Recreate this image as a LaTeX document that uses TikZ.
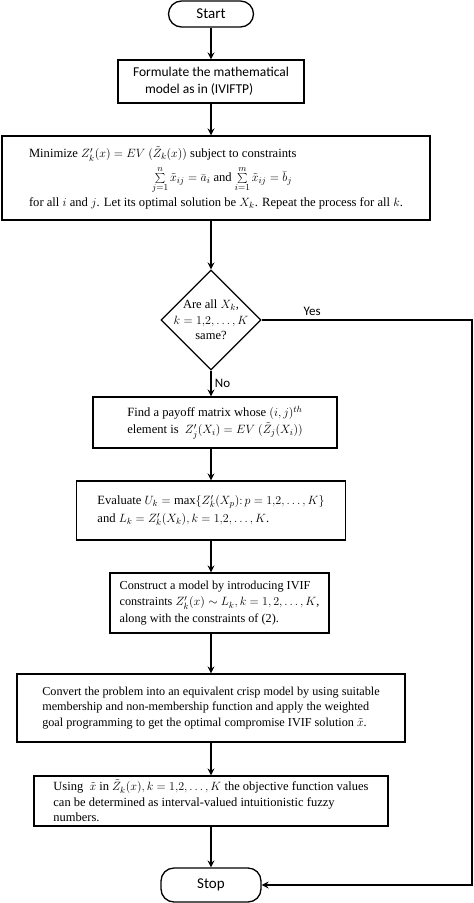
\documentclass[tikz,border=0pt]{standalone}
\usepackage{fontspec}
\setmainfont{Liberation Serif}
\newfontfamily\calfont{Carlito}
\usetikzlibrary{shapes,arrows.meta,positioning}

\begin{document}
\begin{tikzpicture}[x=1pt,y=-1pt,
            process/.style={draw, line width=1.3pt, align=left, inner sep=2pt},
            startstop/.style={draw, line width=1.3pt, rounded corners=13pt, font=\calfont\fontsize{15}{18}\selectfont},
            decision/.style={draw, diamond, line width=1.3pt, align=center, inner sep=-12pt, minimum width=100pt, minimum height=100pt, font=\fontsize{12.5}{15.5}\selectfont},
            flow/.style={line width=1.3pt, -{Stealth[length=7pt,width=7pt,inset=2.5pt]}}]
            \useasboundingbox (0,0) rectangle (474,903);

            \node[startstop, minimum width=85pt, minimum height=26pt] (start) at (211,14) {Start};
            \node[process, minimum width=186pt, minimum height=43pt, font=\calfont\fontsize{13.5}{17}\selectfont] (formulate) at (211,81.5) {Formulate the mathematical\\ \hspace*{12pt}model as in (IVIFTP)};
            \node[process, minimum width=428pt, minimum height=84pt, font=\fontsize{12.6}{15}\selectfont] (minimize) at (216,178) {Minimize $Z'_k(x)=EV\ (\tilde{Z}_k(x))$ subject to constraints\\[4pt]
                \hspace*{123pt}$\sum\limits_{j=1}^{n}\tilde{x}_{ij}=\bar{a}_i$ and $\sum\limits_{i=1}^{m}\tilde{x}_{ij}=\bar{b}_j$\\[3pt]
                for all $i$ and $j$. Let its optimal solution be $X_k$. Repeat the process for all $k$.};
            \node[decision] (same) at (211,320) {Are all $X_k$,\\ $k=1{,}2,\ldots,K$\\ same?};
            \node[process, minimum width=244pt, minimum height=51pt, font=\fontsize{12.6}{17}\selectfont] (payoff) at (215,422.5) {Find a payoff matrix whose $(i,j)^{th}$\\ element is \ $Z'_j(X_i)=EV\ (\tilde{Z}_j(X_i))$};
            \node[process, minimum width=269pt, minimum height=59pt, font=\fontsize{12.6}{18}\selectfont] (evaluate) at (211,510.5) {Evaluate $U_k=\max\{Z'_k(X_p)\colon p=1{,}2,\ldots,K\}$\\ and $L_k=Z'_k(X_k), k=1{,}2,\ldots,K$.};
            \node[process, minimum width=219pt, minimum height=60pt, font=\fontsize{12.2}{16.5}\selectfont] (construct) at (219.5,603) {Construct a model by introducing IVIF\\ constraints $Z'_k(x)\sim L_k, k=1,2,\ldots,K$,\\ along with the constraints of (2).};
            \node[process, minimum width=388pt, minimum height=68pt, font=\fontsize{12.2}{15.8}\selectfont] (convert) at (211,708) {Convert the problem into an equivalent crisp model by using suitable\\ membership and non-membership function and apply the weighted\\ goal programming to get the optimal compromise IVIF solution $\tilde{x}$.};
            \node[process, minimum width=354pt, minimum height=50pt, inner sep=1pt, font=\fontsize{12.5}{15.5}\selectfont] (using) at (211,801) {Using \ $\tilde{x}$ in $\tilde{Z}_k(x), k=1{,}2,\ldots,K$ the objective function values\\ can be determined as interval-valued intuitionistic fuzzy\\ numbers.\hspace*{250pt}};
            \node[startstop, minimum width=100pt, minimum height=34pt] (stop) at (211,885) {Stop};
            \coordinate (turn) at (472,320);

            \draw[flow] (start) -- (formulate);
            \draw[flow] (formulate) -- (formulate |- minimize.north);
            \draw[flow] (minimize.south -| same.north) -- (same);
            \draw[flow] (same) -- node[right, font=\calfont\fontsize{13}{15}\selectfont]{No} (payoff.north -| same.south);
            \draw[flow] (payoff.south -| same.south) -- (evaluate);
            \draw[flow] (evaluate) -- (construct.north -| evaluate.south);
            \draw[flow] (construct.south -| evaluate.south) -- (convert);
            \draw[flow] (convert) -- (using);
            \draw[flow] (using) -- (stop);
            \draw[flow] (same.east) -- node[above, pos=0.24, font=\calfont\fontsize{13}{15}\selectfont]{Yes} (turn) |- (stop.east);
\end{tikzpicture}
\end{document}
